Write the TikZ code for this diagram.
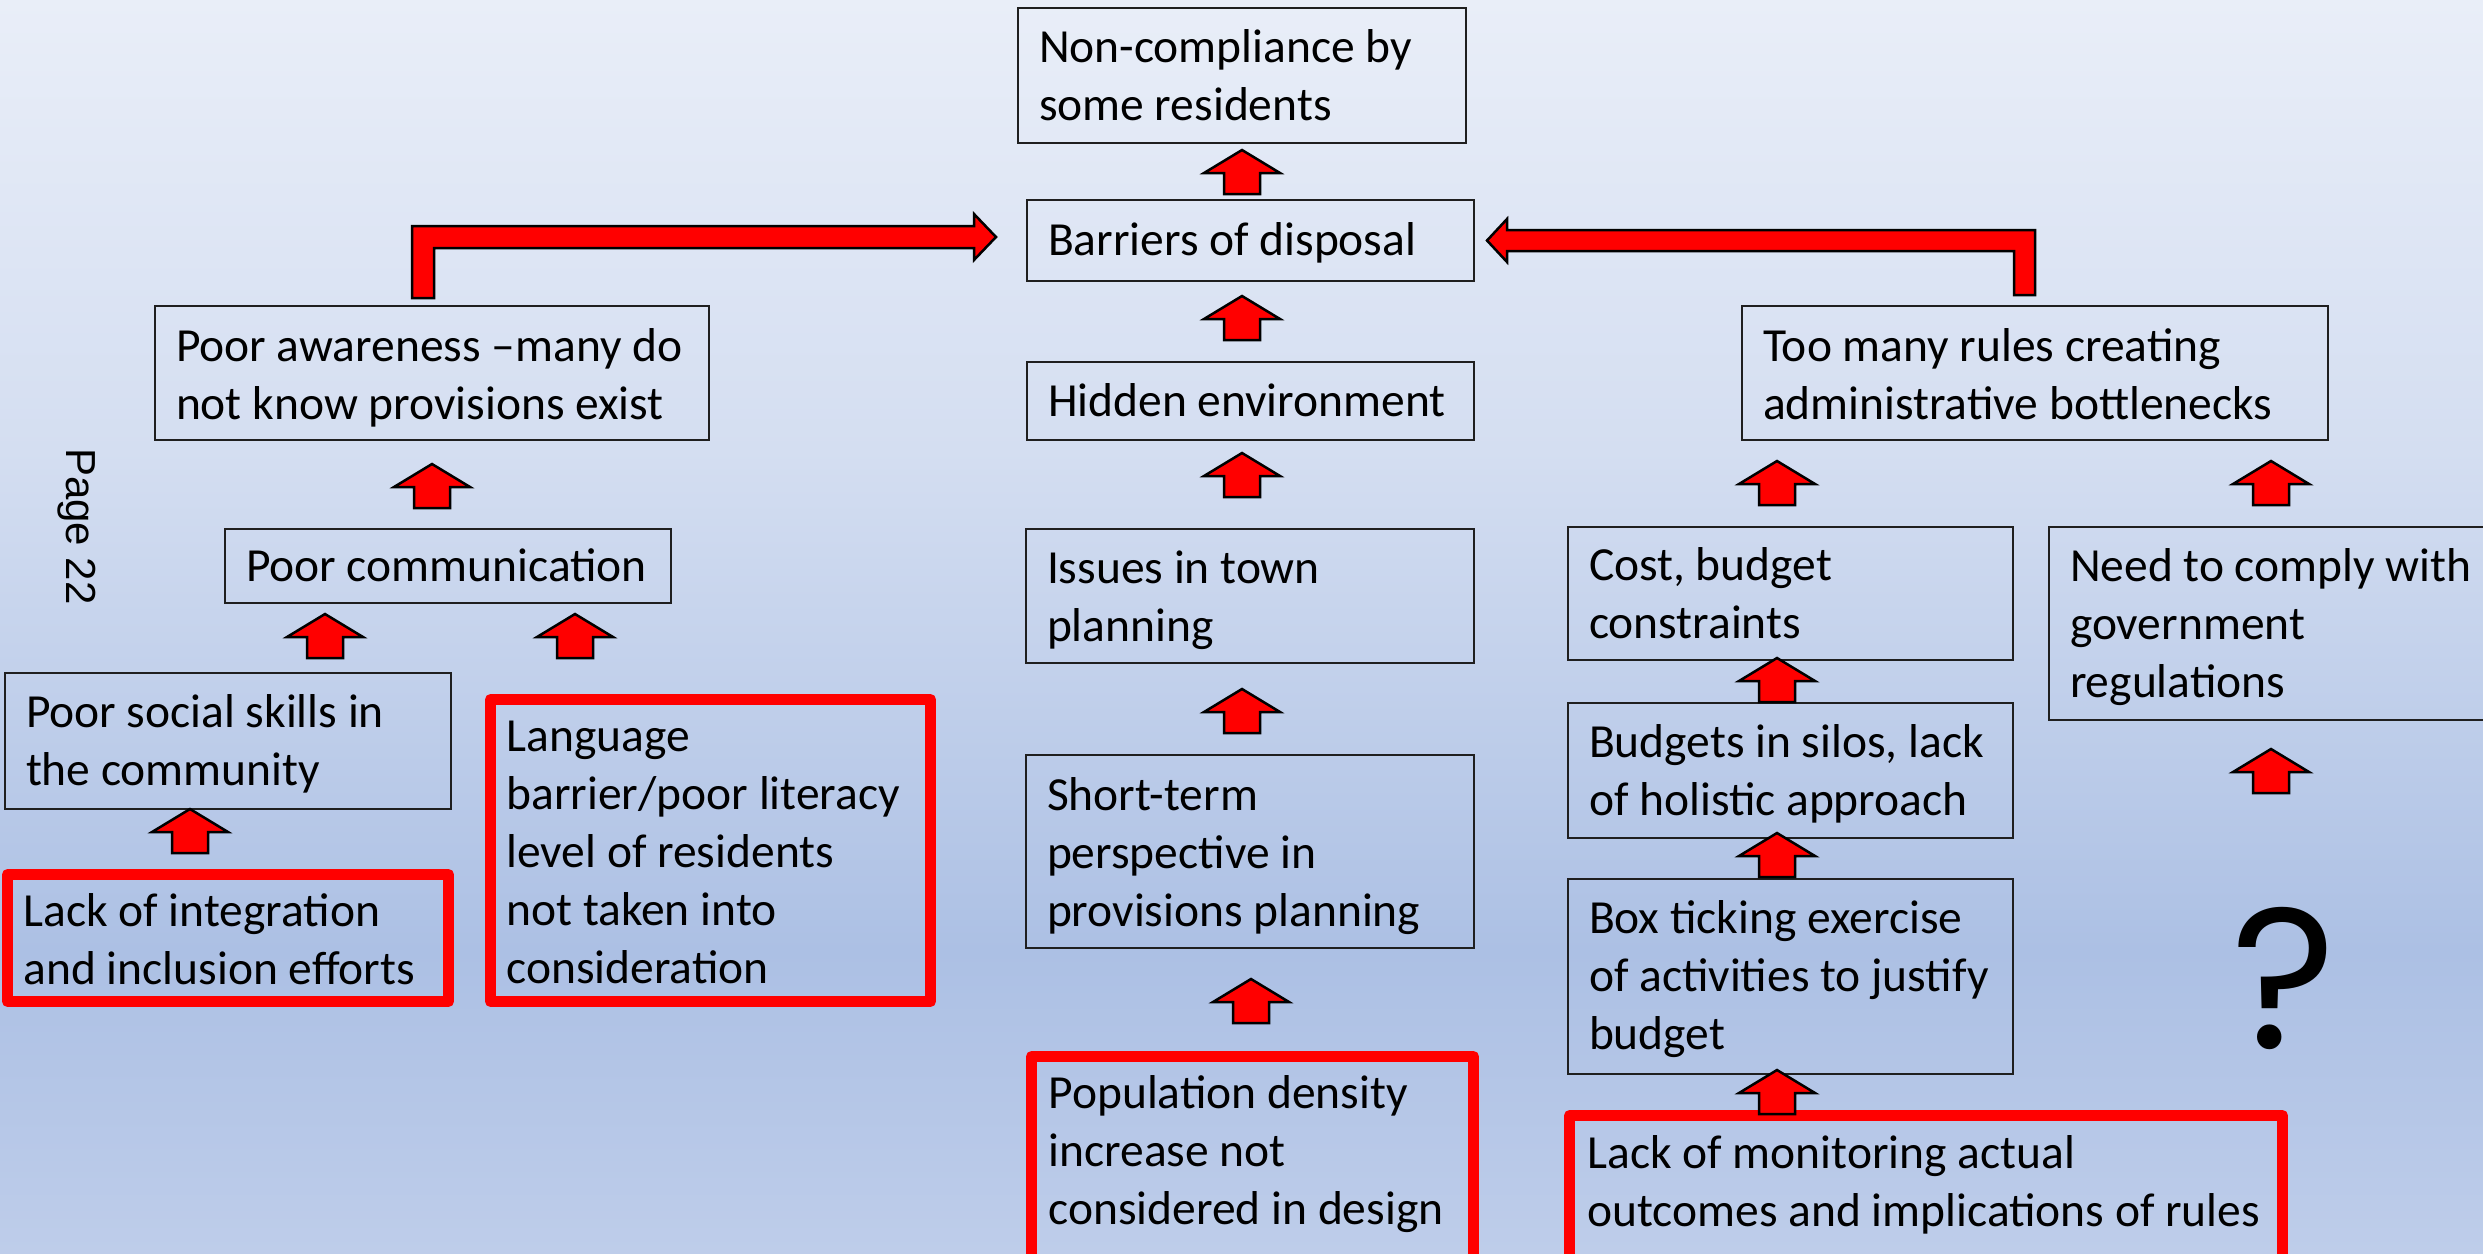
\documentclass[tikz,border=0pt]{standalone}
\usepackage{fontspec}
\setmainfont{Carlito}
\newfontfamily\pagefont{Liberation Sans}
\newfontfamily\qfont{Poppins}
\usetikzlibrary{calc}
\definecolor{bgA}{RGB}{233,238,248}
\definecolor{bgB}{RGB}{212,222,241}
\definecolor{bgC}{RGB}{172,192,228}
\definecolor{bgD}{RGB}{190,205,234}
\newcommand{\bodyfont}{\fontsize{47.5pt}{58pt}\selectfont}
% #1 left inset, #2 first baseline, #3 width, #4 height, #5 text
\newcommand{\cell}[5]{\parbox[c][#4pt][t]{#3pt}{\raggedright\leftskip=#1pt\relax\rule{0pt}{#2pt}#5}}
\tikzset{
  box/.style={draw=black!88, line width=2pt, inner sep=0pt, outer sep=0pt, anchor=north west, font=\bodyfont},
  redbox/.style={draw=red, line width=11pt, line join=round, inner sep=0pt, outer sep=0pt, anchor=north west, font=\bodyfont},
  arrowsty/.style={fill=red, draw=black, line width=2.5pt, line join=miter},
  uparr/.pic={\draw[arrowsty] (0,-22) -- (38,1) -- (18,1) -- (18,22) -- (-18,22) -- (-18,1) -- (-38,1) -- cycle;}
}
\begin{document}
\begin{tikzpicture}[x=1pt,y=-1pt]
\useasboundingbox (0,0) rectangle (2483,1253);
\begin{scope}
\clip (0,0) rectangle (2483,1253);
% background
\shade[top color=bgA, bottom color=bgB] (0,0) rectangle (2483,451);
\shade[top color=bgB, bottom color=bgC] (0,450) rectangle (2483,951);
\shade[top color=bgC, bottom color=bgD] (0,950) rectangle (2483,1253);

% centre column
\node[box] (nc) at (1018,8) {\cell{21}{54}{448}{135}{Non-compliance by\\some residents}};
\node[box] (bar) at (1027,200) {\cell{21}{55}{447}{81}{Barriers of disposal}};
\node[box] (hid) at (1027,362) {\cell{21}{54}{447}{78}{Hidden environment}};
\node[box] (iss) at (1026,529) {\cell{21}{54}{448}{134}{Issues in town\\planning}};
\node[box] (short) at (1026,755) {\cell{21}{55}{448}{193}{Short-term\\perspective in\\provisions planning}};
\node[redbox] (pop) at (1031.5,1056.5) {\cell{17}{52}{442}{260}{Population density\\increase not\\considered in design}};

% left side
\node[box] (aware) at (155,306) {\cell{21}{55}{554}{134}{Poor awareness \textendash many do\\not know provisions exist}};
\node[box] (comm) at (225,529) {\cell{21}{52}{446}{74}{Poor communication}};
\node[box] (soc) at (5,673) {\cell{21}{54}{446}{136}{Poor social skills in\\the community}};
\node[redbox] (integ) at (7.5,874.5) {\cell{16}{52}{441}{127}{Lack of integration\\and inclusion efforts}};
\node[redbox] (lang) at (490.5,699.5) {\cell{16}{52}{440}{302}{Language\\barrier/poor literacy\\level of residents\\not taken into\\consideration}};

% right side
\node[box] (rules) at (1742,306) {\cell{21}{55}{586}{134}{Too many rules creating\\administrative bottlenecks}};
\node[box] (cost) at (1568,527) {\cell{21}{53}{445}{133}{Cost, budget\\constraints}};
\node[box] (silos) at (1568,703) {\cell{21}{54}{445}{135}{Budgets in silos, lack\\of holistic approach}};
\node[box] (tick) at (1568,879) {\cell{21}{54}{445}{195}{Box ticking exercise\\of activities to justify\\budget}};
\node[redbox] (mon) at (1569.5,1115.5) {\cell{18}{53}{713}{200}{Lack of monitoring actual\\outcomes and implications of rules}};
\node[box] (need) at (2049,527) {\cell{21}{54}{460}{193}{Need to comply with\\government\\regulations}};

% up arrows
\pic (a1) at (1242,172) {uparr};
\pic (a2) at (1242,318) {uparr};
\pic (a3) at (1242,475) {uparr};
\pic (a4) at (1242,711) {uparr};
\pic (a5) at (1251,1001) {uparr};
\pic (a6) at (432,486) {uparr};
\pic (a7) at (325,636) {uparr};
\pic (a8) at (575,636) {uparr};
\pic (a9) at (190,831) {uparr};
\pic (a10) at (1777,483) {uparr};
\pic (a11) at (2271,483) {uparr};
\pic (a12) at (1777,680) {uparr};
\pic (a13) at (1777,855) {uparr};
\pic (a14) at (1777,1092) {uparr};
\pic (a15) at (2271,771) {uparr};

% elbow arrows
\draw[arrowsty] (412,298) -- (412,226) -- (974,226) -- (974,214) -- (996,237) -- (974,260) -- (974,248) -- (434,248) -- (434,298) -- cycle;
\draw[arrowsty] (2035,295) -- (2035,230) -- (1507,230) -- (1507,219) -- (1487,240.5) -- (1507,262) -- (1507,251) -- (2014,251) -- (2014,295) -- cycle;

% page number and question mark
\node[font=\pagefont\fontsize{42pt}{50pt}\selectfont, rotate=-90, anchor=base west, inner sep=0pt] (pg) at (66,448) {Page 22};
\node[font=\qfont\fontsize{200pt}{200pt}\selectfont, anchor=base, inner sep=0pt] (q) at (2284,1048) {?};
\end{scope}
\end{tikzpicture}
\end{document}
